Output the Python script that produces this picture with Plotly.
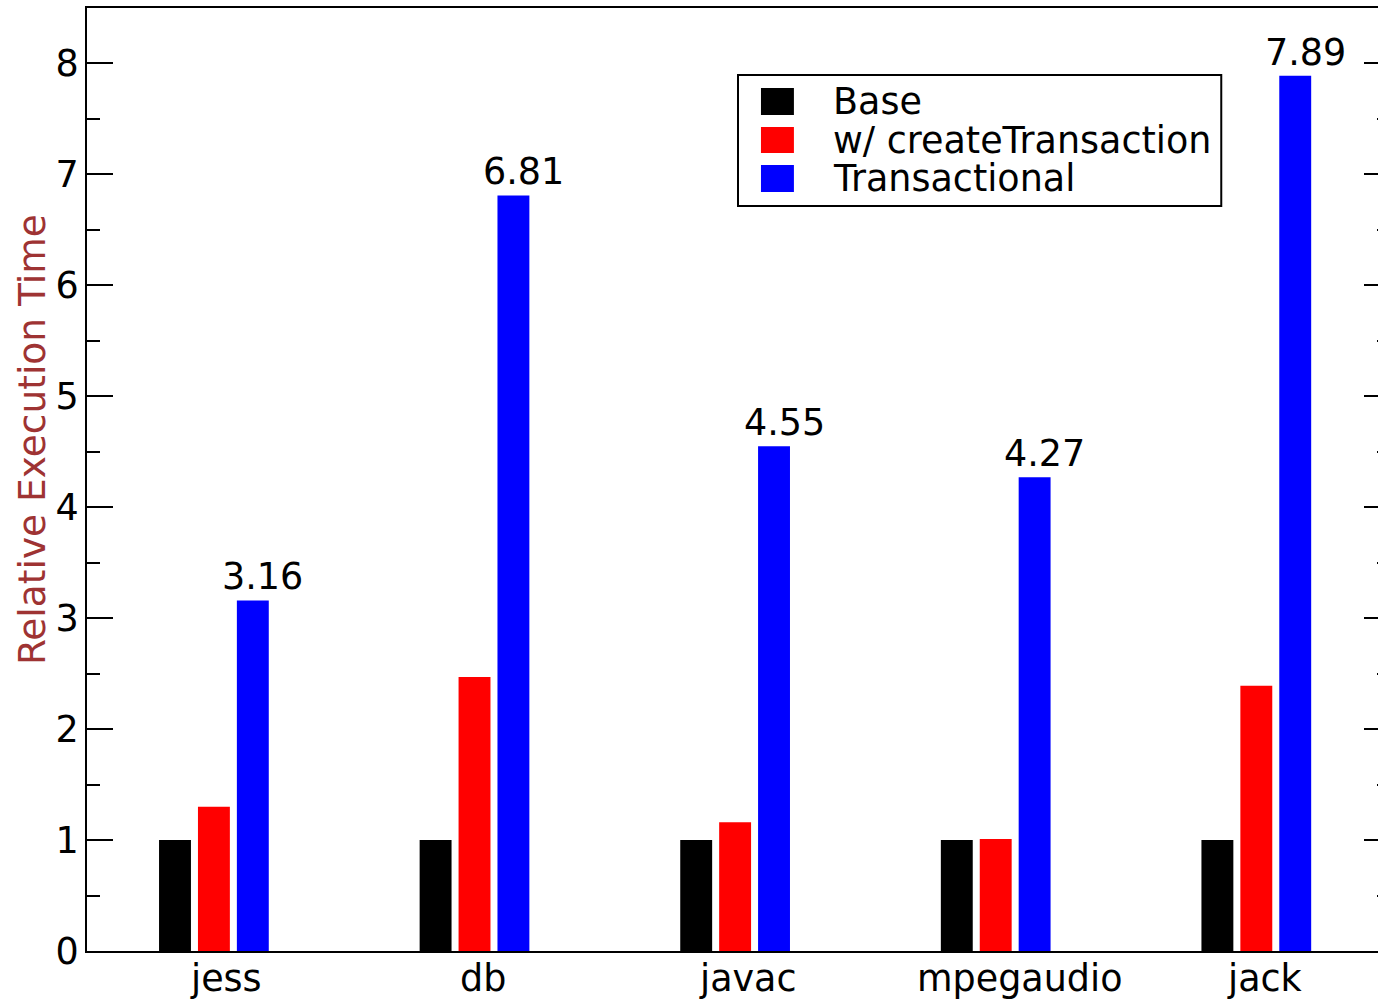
import plotly.graph_objects as go

# Benchmark data: execution time relative to the base run
benchmarks = ["jess", "db", "javac", "mpegaudio", "jack"]
base = [1.0, 1.0, 1.0, 1.0, 1.0]
create_tx = [1.30, 2.47, 1.16, 1.01, 2.39]
transactional = [3.16, 6.81, 4.55, 4.27, 7.89]

series_names = ["Base", "w/ createTransaction", "Transactional"]
series_colors = ["#000000", "#ff0000", "#0000ff"]

FONT = "DejaVu Sans"
FS = 36.5
FIG_W, FIG_H = 1392, 999
M_L, M_R, M_T, M_B = 87, 0, 8, 48
PLOT_W = FIG_W - M_L - M_R
PLOT_H = FIG_H - M_T - M_B


def px_x(p):
    return (p - M_L) / PLOT_W


def px_y(p):
    return (FIG_H - M_B - p) / PLOT_H


fig = go.Figure()
for name, vals, col in zip(series_names, [base, create_tx, transactional], series_colors):
    fig.add_trace(go.Bar(
        x=benchmarks, y=vals, name=name,
        marker=dict(color=col, line=dict(color=col, width=0)),
        showlegend=False,
    ))

annotations = []

# value labels above the Transactional bars
slot_px = PLOT_W / 5 * (1 - 0.552) / 3
for cat, v in zip(benchmarks, transactional):
    annotations.append(dict(
        x=cat, y=v, xref="x", yref="y", text=f"{v:.2f}", showarrow=False,
        xanchor="center", yanchor="bottom", xshift=slot_px + 10, yshift=0,
        font=dict(family=FONT, size=FS, color="black"),
    ))

# category labels under the axis
label_shift = [12, 8, 13, 24, 9]
for cat, s in zip(benchmarks, label_shift):
    annotations.append(dict(
        x=cat, y=0, xref="x", yref="y", text=cat, showarrow=False,
        xanchor="center", yanchor="top", xshift=s, yshift=-4,
        font=dict(family=FONT, size=FS, color="black"),
    ))

# y-axis title
annotations.append(dict(
    x=px_x(32), y=px_y(440), xref="paper", yref="paper",
    text="Relative Execution Time", textangle=-90, showarrow=False,
    xanchor="center", yanchor="middle",
    font=dict(family=FONT, size=37.5, color="#9e3333"),
))

# legend box with swatches
shapes = [dict(
    type="rect", xref="paper", yref="paper",
    x0=px_x(739), x1=px_x(1223), y0=px_y(206), y1=px_y(75),
    line=dict(color="black", width=2), fillcolor="white", layer="above",
)]
legend_rows = [(88, 115, 101), (127, 153, 140), (165, 192, 178)]
for (top, bot, mid), name, col in zip(legend_rows, series_names, series_colors):
    shapes.append(dict(
        type="rect", xref="paper", yref="paper",
        x0=px_x(762), x1=px_x(795), y0=px_y(bot), y1=px_y(top),
        line=dict(width=0), fillcolor=col, layer="above",
    ))
    annotations.append(dict(
        x=px_x(833), y=px_y(mid), xref="paper", yref="paper", text=name,
        showarrow=False, xanchor="left", yanchor="middle",
        height=38, valign="middle", borderpad=0,
        font=dict(family=FONT, size=FS, color="black"),
    ))

fig.update_layout(
    width=FIG_W, height=FIG_H,
    margin=dict(l=M_L, r=M_R, t=M_T, b=M_B, pad=0),
    paper_bgcolor="white", plot_bgcolor="white",
    barmode="group", bargap=0.552, bargroupgap=0.18,
    font=dict(family=FONT, size=FS, color="black"),
    annotations=annotations, shapes=shapes,
    showlegend=False,
)
fig.update_xaxes(
    type="category", range=[-0.487, 4.513],
    showline=True, linecolor="black", linewidth=2, mirror=True,
    ticks="", showticklabels=False, showgrid=False, zeroline=False,
)
fig.update_yaxes(
    range=[0, 8.5], dtick=1, tick0=0,
    showline=True, linecolor="black", linewidth=2, mirror="allticks",
    ticks="inside", ticklen=26, tickwidth=2, tickcolor="black",
    minor=dict(dtick=0.5, ticks="inside", ticklen=13, tickwidth=2, tickcolor="black"),
    tickfont=dict(family=FONT, size=FS, color="black"), ticklabelstandoff=-1,
    showgrid=False, zeroline=False,
)

fig.write_html(
    "out.html",
    post_script="document.documentElement.style.overflow='hidden';"
                "document.body.style.overflow='hidden';",
)
